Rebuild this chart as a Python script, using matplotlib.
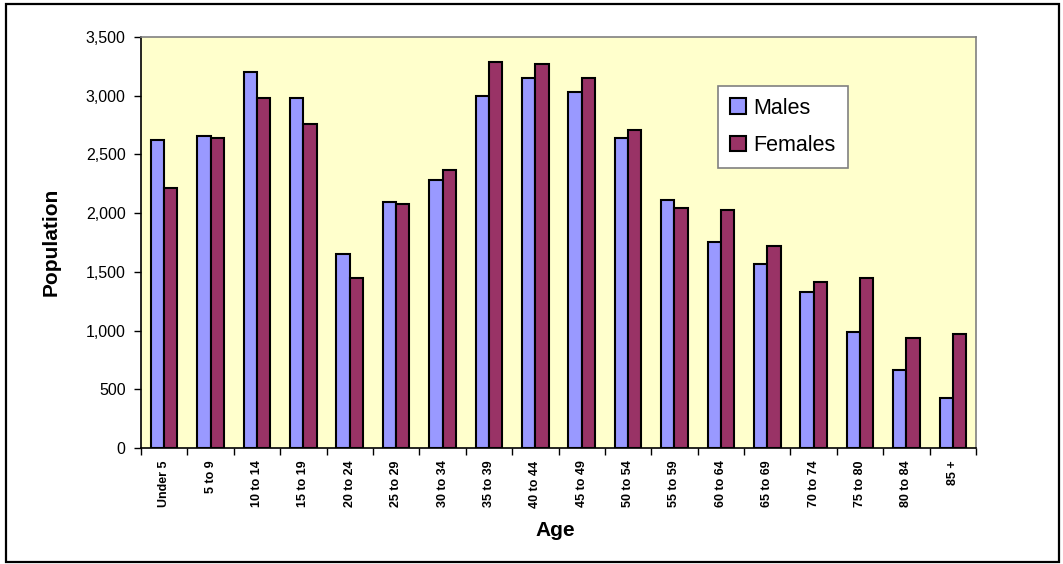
import matplotlib
matplotlib.use("Agg")
import matplotlib.pyplot as plt
import numpy as np
from matplotlib.patches import Rectangle
from matplotlib.ticker import FuncFormatter, FixedLocator

plt.rcParams['font.family'] = ['Liberation Sans', 'DejaVu Sans']

ages = ["Under 5", "5 to 9", "10 to 14", "15 to 19", "20 to 24", "25 to 29",
        "30 to 34", "35 to 39", "40 to 44", "45 to 49", "50 to 54", "55 to 59",
        "60 to 64", "65 to 69", "70 to 74", "75 to 80", "80 to 84", "85 +"]
males = [2625, 2656, 3201, 2980, 1652, 2094, 2279, 2997, 3147, 3031,
         2639, 2111, 1757, 1567, 1328, 988, 664, 426]
females = [2214, 2642, 2980, 2758, 1447, 2077, 2367, 3286, 3269, 3150,
           2710, 2043, 2026, 1720, 1413, 1447, 937, 971]

W, H = 1063, 564
fig = plt.figure(figsize=(W / 100, H / 100), dpi=100)
fig.patch.set_facecolor("white")

# axes placed to match the plot area in pixels
ax = fig.add_axes([141 / W, 1 - 448 / H, (976 - 141) / W, (448 - 37) / H])
ax.set_facecolor("#FFFFCC")

x = np.arange(len(ages))
bw = 1 / 3.5
ax.bar(x - bw / 2, males, bw, color="#9999FF", edgecolor="black", linewidth=1.5, label="Males")
ax.bar(x + bw / 2, females, bw, color="#993366", edgecolor="black", linewidth=1.5, label="Females")

ax.set_xlim(-0.5, len(ages) - 0.5)
ax.set_ylim(0, 3500)
ax.set_yticks(np.arange(0, 3501, 500))
ax.yaxis.set_major_formatter(FuncFormatter(lambda v, p: f"{int(v):,}"))
ax.tick_params(axis="y", direction="out", length=5, width=1, pad=6, labelsize=11.5, colors="black")

ax.set_xticks(x)
ax.set_xticklabels(ages, rotation=90, fontsize=9, fontweight="bold")
ax.tick_params(axis="x", which="major", length=0, pad=9)
ax.xaxis.set_minor_locator(FixedLocator(np.arange(-0.5, len(ages), 1)))
ax.tick_params(axis="x", which="minor", direction="out", length=5, width=1)

for s in ["top", "right"]:
    ax.spines[s].set_color("#808080")
    ax.spines[s].set_linewidth(1.2)
for s in ["left", "bottom"]:
    ax.spines[s].set_color("black")
    ax.spines[s].set_linewidth(1.2)

leg = ax.legend(loc="upper left", bbox_to_anchor=(718 / W, 1 - 86 / H),
                bbox_transform=fig.transFigure, borderaxespad=0, fontsize=15.5,
                frameon=True, fancybox=False, edgecolor="#808080",
                handlelength=0.75, handleheight=0.75, handletextpad=0.35,
                labelspacing=0.75, borderpad=0.55)
leg.get_frame().set_facecolor("white")
leg.get_frame().set_linewidth(1.2)
leg.get_frame().set_alpha(1)

fig.text(51 / W, 1 - 242 / H, "Population", rotation=90, ha="center", va="center",
         fontsize=15, fontweight="bold")
fig.text(555 / W, 1 - 531 / H, "Age", ha="center", va="center",
         fontsize=15, fontweight="bold")

fig.patches.append(Rectangle((6 / W, 1 - 562 / H), 1053 / W, 558 / H,
                             transform=fig.transFigure, fill=False,
                             edgecolor="black", linewidth=1.6))

fig.savefig("out.png", dpi=100)
